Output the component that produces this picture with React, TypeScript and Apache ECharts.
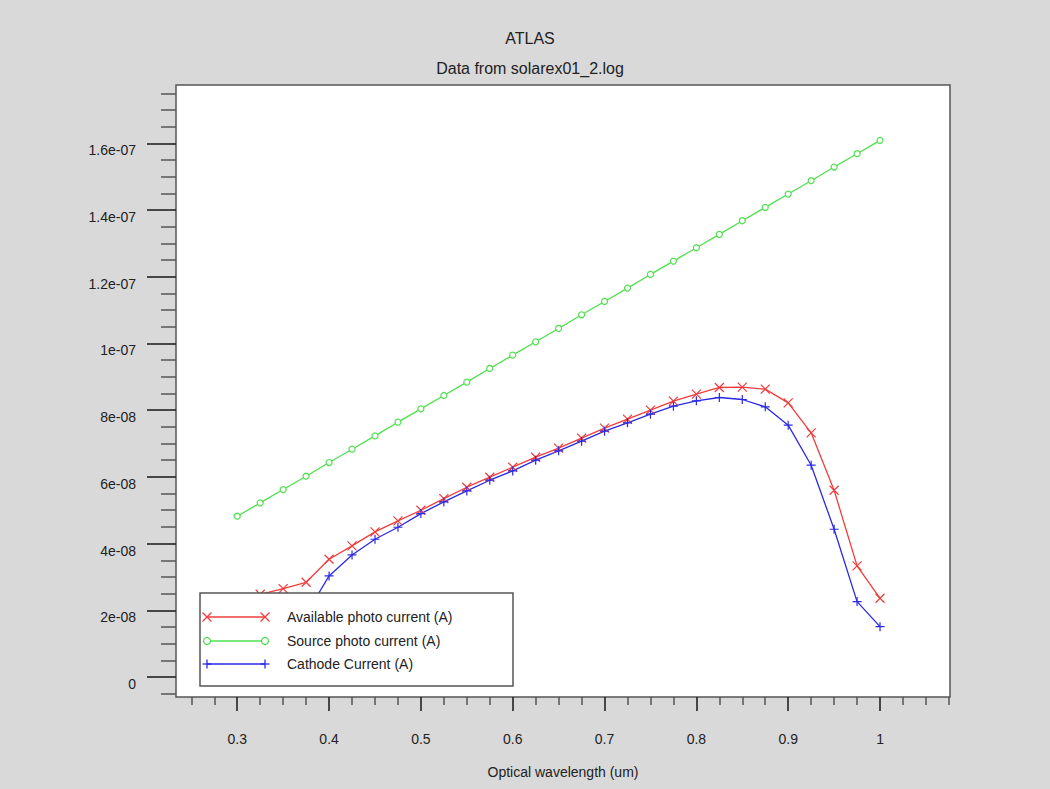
import React, { useEffect, useRef } from "react";
import * as echarts from "echarts";

// ---- data ----
const wavelengths = [
  0.3, 0.325, 0.35, 0.375, 0.4, 0.425, 0.45, 0.475, 0.5, 0.525, 0.55, 0.575,
  0.6, 0.625, 0.65, 0.675, 0.7, 0.725, 0.75, 0.775, 0.8, 0.825, 0.85, 0.875,
  0.9, 0.925, 0.95, 0.975, 1.0,
];
const availableCurrent = [
  2.35e-8, 2.48e-8, 2.65e-8, 2.84e-8, 3.53e-8, 3.93e-8, 4.35e-8, 4.68e-8, 5.0e-8,
  5.35e-8, 5.69e-8, 5.99e-8, 6.29e-8, 6.59e-8, 6.86e-8, 7.16e-8, 7.46e-8, 7.73e-8,
  8.0e-8, 8.27e-8, 8.48e-8, 8.68e-8, 8.69e-8, 8.63e-8, 8.22e-8, 7.32e-8, 5.6e-8,
  3.33e-8, 2.36e-8,
];
const sourceCurrent = [
  4.82e-8, 5.22e-8, 5.62e-8, 6.02e-8, 6.43e-8, 6.83e-8, 7.23e-8, 7.64e-8, 8.04e-8,
  8.44e-8, 8.84e-8, 9.25e-8, 9.65e-8, 10.05e-8, 10.45e-8, 10.86e-8, 11.26e-8,
  11.66e-8, 12.07e-8, 12.47e-8, 12.87e-8, 13.27e-8, 13.68e-8, 14.08e-8, 14.48e-8,
  14.88e-8, 15.29e-8, 15.69e-8, 16.09e-8,
];
const cathodeCurrent = [
  0.5e-8, 0.9e-8, 1.4e-8, 1.88e-8, 3.03e-8, 3.66e-8, 4.13e-8, 4.49e-8, 4.9e-8,
  5.25e-8, 5.58e-8, 5.9e-8, 6.18e-8, 6.5e-8, 6.78e-8, 7.07e-8, 7.37e-8, 7.62e-8,
  7.88e-8, 8.12e-8, 8.28e-8, 8.38e-8, 8.32e-8, 8.1e-8, 7.55e-8, 6.35e-8, 4.43e-8,
  2.26e-8, 1.51e-8,
];
const seriesNames = [
  "Available photo current (A)",
  "Source photo current (A)",
  "Cathode Current (A)",
];

const xMajorTicks = [0.3, 0.4, 0.5, 0.6, 0.7, 0.8, 0.9, 1.0];
const xTickLabels = ["0.3", "0.4", "0.5", "0.6", "0.7", "0.8", "0.9", "1"];
const yMajorTicks = [0, 2e-8, 4e-8, 6e-8, 8e-8, 1e-7, 1.2e-7, 1.4e-7, 1.6e-7];
const yTickLabels = [
  "0", "2e-08", "4e-08", "6e-08", "8e-08", "1e-07", "1.2e-07", "1.4e-07", "1.6e-07",
];

const X_MIN = 0.2333;
const X_MAX = 1.0762;
const Y_MIN = -0.6e-8;
const Y_MAX = 1.775e-7;

const RED = "#f03c3c";
const GREEN = "#4ee04e";
const BLUE = "#2a2ae6";
const TEXT = "#222";
const FONT = "'Liberation Sans', Arial, Helvetica, sans-serif";

function minorTicks(start: number, end: number, step: number, majors: number[], eps: number) {
  const out: number[] = [];
  for (let v = start; v <= end + eps; v += step) {
    const r = Math.round(v / step) * step;
    if (!majors.some((m) => Math.abs(m - r) < eps)) out.push(r);
  }
  return out;
}

const xMinorTicks = minorTicks(0.25, 1.075, 0.025, xMajorTicks, 1e-6);
const yMinorTicks = minorTicks(-0.5e-8, 1.75e-7, 0.5e-8, yMajorTicks, 1e-12);

const X_PATH = "path://M0,0L10,10M10,0L0,10";
const PLUS_PATH = "path://M5,0L5,10M0,5L10,5";

export default function App() {
  const ref = useRef<HTMLDivElement>(null);

  useEffect(() => {
    if (!ref.current) return;
    const chart = echarts.init(ref.current, undefined, { renderer: "svg" });

    const lgX = 200, lgY = 593, lgW = 313, lgH = 93;
    const rowY = [617, 641, 664];
    const colors = [RED, GREEN, BLUE];
    const lx1 = 207, lx2 = 265;
    const legendEls: any[] = [
      {
        type: "rect",
        z: 100,
        shape: { x: lgX, y: lgY, width: lgW, height: lgH },
        style: { fill: "#fff", stroke: "#555", lineWidth: 1.5 },
      },
    ];
    const s = 4.5;
    seriesNames.forEach((name, i) => {
      const y = rowY[i];
      const c = colors[i];
      legendEls.push({
        type: "line", z: 101,
        shape: { x1: lx1, y1: y, x2: lx2, y2: y },
        style: { stroke: c, lineWidth: 1.3 },
      });
      [lx1, lx2].forEach((cx) => {
        if (i === 0) {
          legendEls.push({ type: "line", z: 102, shape: { x1: cx - s, y1: y - s, x2: cx + s, y2: y + s }, style: { stroke: c, lineWidth: 1.3 } });
          legendEls.push({ type: "line", z: 102, shape: { x1: cx - s, y1: y + s, x2: cx + s, y2: y - s }, style: { stroke: c, lineWidth: 1.3 } });
        } else if (i === 1) {
          legendEls.push({ type: "circle", z: 102, shape: { cx, cy: y, r: 3.5 }, style: { fill: "#fff", stroke: c, lineWidth: 1.3 } });
        } else {
          legendEls.push({ type: "line", z: 102, shape: { x1: cx, y1: y - s, x2: cx, y2: y + s }, style: { stroke: c, lineWidth: 1.3 } });
          legendEls.push({ type: "line", z: 102, shape: { x1: cx - s, y1: y, x2: cx + s, y2: y }, style: { stroke: c, lineWidth: 1.3 } });
        }
      });
      legendEls.push({
        type: "text", z: 102,
        x: 287, y,
        style: { text: name, fill: TEXT, font: `14px ${FONT}`, textVerticalAlign: "middle", textAlign: "left" },
      });
    });

    const xLabelFmt = (v: number) => {
      const i = xMajorTicks.findIndex((m) => Math.abs(m - v) < 1e-6);
      return i >= 0 ? xTickLabels[i] : "";
    };
    const yLabelFmt = (v: number) => {
      const i = yMajorTicks.findIndex((m) => Math.abs(m - v) < 1e-12);
      return i >= 0 ? yTickLabels[i] : "";
    };

    const baseX = {
      type: "value" as const,
      min: X_MIN,
      max: X_MAX,
      position: "bottom" as const,
      axisLine: { show: false, onZero: false },
      splitLine: { show: false },
    };
    const baseY = {
      type: "value" as const,
      min: Y_MIN,
      max: Y_MAX,
      position: "left" as const,
      axisLine: { show: false, onZero: false },
      splitLine: { show: false },
    };

    const mk = (name: string, data: number[], color: string, symbol: string, size: number, fill: string) => ({
      name,
      type: "line",
      xAxisIndex: 0,
      yAxisIndex: 0,
      data: wavelengths.map((x, i) => [x, data[i]]),
      symbol,
      symbolSize: size,
      showSymbol: true,
      lineStyle: { color, width: 1.3 },
      itemStyle: { color: fill, borderColor: color, borderWidth: 1.2 },
      emphasis: { disabled: true },
      z: 3,
    });

    chart.setOption({
      animation: false,
      backgroundColor: "#d9d9d9",
      textStyle: { fontFamily: FONT },
      title: [
        {
          text: "ATLAS",
          left: 530,
          top: 30,
          textAlign: "center",
          padding: 0,
          textStyle: { fontSize: 16, fontWeight: "normal", color: TEXT, fontFamily: FONT },
        },
        {
          text: "Data from solarex01_2.log",
          left: 530,
          top: 60,
          textAlign: "center",
          padding: 0,
          textStyle: { fontSize: 16, fontWeight: "normal", color: TEXT, fontFamily: FONT },
        },
      ],
      grid: {
        left: 176,
        top: 85,
        right: 100,
        bottom: 92,
        show: true,
        backgroundColor: "#fff",
        borderColor: "#555",
        borderWidth: 1.5,
      },
      xAxis: [
        {
          ...baseX,
          name: "Optical wavelength (um)",
          nameLocation: "middle",
          nameGap: 68,
          nameTextStyle: { fontSize: 14, color: TEXT, fontFamily: FONT },
          axisTick: { show: true, customValues: xMajorTicks, length: 14, lineStyle: { color: "#222", width: 1.6 } },
          axisLabel: { show: true, customValues: xMajorTicks, margin: 35, fontSize: 14, color: TEXT, fontFamily: FONT, formatter: xLabelFmt },
        },
        {
          ...baseX,
          axisTick: { show: true, customValues: xMinorTicks, length: 8, lineStyle: { color: "#555", width: 1.5 } },
          axisLabel: { show: false },
        },
      ],
      yAxis: [
        {
          ...baseY,
          axisTick: { show: true, customValues: yMajorTicks, length: 29, lineStyle: { color: "#222", width: 1.6 } },
          axisLabel: {
            show: true,
            customValues: yMajorTicks,
            margin: 40,
            fontSize: 14,
            color: TEXT,
            fontFamily: FONT,
            verticalAlign: "top",
            formatter: yLabelFmt,
          },
        },
        {
          ...baseY,
          axisTick: { show: true, customValues: yMinorTicks, length: 15, lineStyle: { color: "#555", width: 1.5 } },
          axisLabel: { show: false },
        },
      ],
      series: [
        mk(seriesNames[0], availableCurrent, RED, X_PATH, 9, RED),
        mk(seriesNames[1], sourceCurrent, GREEN, "circle", 6, "#fff"),
        mk(seriesNames[2], cathodeCurrent, BLUE, PLUS_PATH, 9, BLUE),
      ],
      graphic: legendEls,
    });

    return () => chart.dispose();
  }, []);

  return (
    <div
      ref={ref}
      style={{ position: "absolute", left: 0, top: 0, width: 1050, height: 789 }}
    />
  );
}
